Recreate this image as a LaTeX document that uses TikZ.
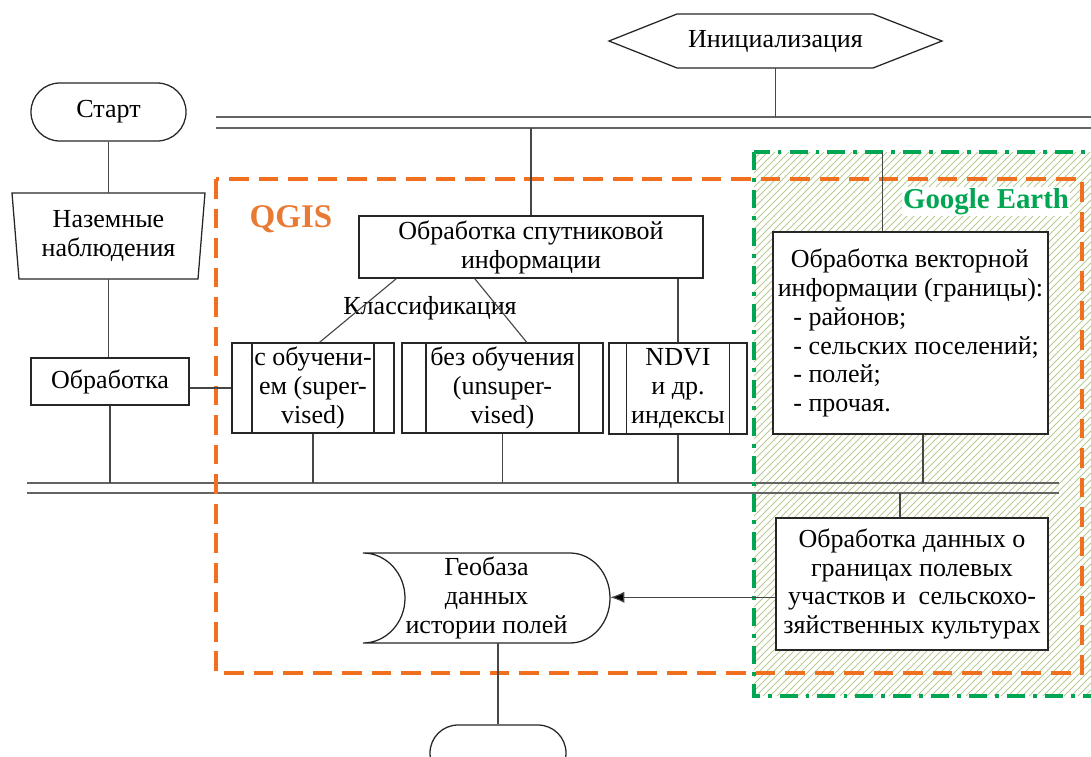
\documentclass[tikz,border=0pt]{standalone}
\usepackage{fontspec}
\setmainfont{Liberation Serif}
\usetikzlibrary{calc,arrows.meta}

\definecolor{qgisorange}{RGB}{240,112,32}
\definecolor{qgistext}{RGB}{232,122,52}
\definecolor{gegreen}{RGB}{0,166,82}
\definecolor{hatchgreen}{RGB}{186,202,146}
\definecolor{busgray}{RGB}{100,100,100}
\definecolor{linegray}{RGB}{70,70,70}

\tikzset{
    corners/.style n args={4}{at={({(#1+#3)/2},{(#2+#4)/2})},
        minimum width={(#3-#1)*0.025cm}, minimum height={(#4-#2)*0.025cm}},
    box/.style={draw=black!85, line width=0.9pt, fill=white, inner sep=0pt, align=center},
    predef/.style={box, path picture={
        \draw[line width=0.9pt, draw=black!85]
            ([xshift=#1]path picture bounding box.north west) -- ([xshift=#1]path picture bounding box.south west)
            ([xshift=-#1]path picture bounding box.north east) -- ([xshift=-#1]path picture bounding box.south east);}},
    link/.style={draw=linegray, line width=0.8pt},
    bus/.style={draw=busgray, line width=1.4pt},
    hatch/.style={draw=hatchgreen, line width=0.6pt},
    qgisframe/.style={draw=qgisorange, line width=2.8pt, dash pattern=on 14pt off 7pt},
    geframe/.style={draw=gegreen, line width=2.8pt, dash pattern=on 12.8pt off 5.7pt on 2.8pt off 5.7pt}
}

\begin{document}
\begin{tikzpicture}[x=0.025cm, y=-0.025cm, font=\fontsize{18.5}{20.6}\selectfont]
    \useasboundingbox (0,0) rectangle (1091,756);
    \clip (0,0) rectangle (1091,756);

    % Google Earth area
    \begin{scope}
        \clip (754,152) rectangle (1091,696);
        \foreach \i in {0,7,...,882}
            \draw[hatch] (210+\i,696) -- ++(544,-544);
    \end{scope}

    % buses
    \coordinate (top1) at (0,117);
    \coordinate (top2) at (0,128);
    \coordinate (bot1) at (0,483);
    \coordinate (bot2) at (0,493);
    \draw[bus] (216,117) -- (1091,117) (216,128) -- (1091,128);
    \draw[bus] (27,483) -- (1059,483) (27,493) -- (1059,493);

    % frames
    \coordinate (getop) at (754,152);
    \draw[qgisframe] (216,179) rectangle (1082,673);
    \draw[geframe] (754,152) rectangle (1110,696);
    \node[font=\fontsize{23.5}{26}\selectfont\bfseries, text=qgistext, anchor=base] (qgis) at (291,227) {QGIS};
    \node[font=\fontsize{20.5}{24}\selectfont\bfseries, text=gegreen, fill=white, inner sep=1pt, anchor=base] (ge) at (986,208) {Google Earth};

    % blocks
    \draw[box] (609,41) -- (677,14) -- (873,14) -- (942,41) -- (873,68) -- (677,68) -- cycle;
    \node[corners={609}{14}{942}{68}, inner sep=0pt] (init) {Инициализация};
    \node[box, rounded corners=0.72cm, corners={31}{83}{186}{141}] (start) {Старт};
    \draw[box] (12,193) -- (205,193) -- (198,279) -- (19,279) -- cycle;
    \node[corners={12}{193}{205}{279}, inner sep=0pt, align=center] (naz) {Наземные\\наблюдения};
    \node[box, corners={31}{358}{189}{405}] (obr) {Обработка};
    \node[box, corners={359}{216}{703}{278}] (sat) {Обработка спутниковой\\информации};
    \node[predef=0.5cm, corners={232}{343}{394}{433}] (sup) {с обучени-\\ем (super-\\vised)};
    \node[predef=0.6cm, corners={402}{343}{603}{433}] (unsup) {без обучения\\(unsuper-\\vised)};
    \node[predef=0.43cm, corners={609}{343}{747}{434}] (ndvi) {NDVI\\и др.\\индексы};
    \node[anchor=base] (cls) at (430,314) {Классификация};
    \node[box, align=left, corners={773}{232}{1048}{434}] (vec) {\hspace*{0.5em}Обработка векторной\\информации (границы):\\\hspace*{0.6em}- районов;\\\hspace*{0.6em}- сельских поселений;\\\hspace*{0.6em}- полей;\\\hspace*{0.6em}- прочая.};
    \node[box, corners={776}{518}{1048}{650}] (dat) {Обработка данных о\\границах полевых\\участков и~ сельскохо-\\зяйственных культурах};
    \draw[box] (363,553) -- (570,553) .. controls (592,553) and (610,573) .. (610,598)
        .. controls (610,623) and (592,643) .. (570,643) -- (363,643)
        .. controls (386,643) and (405,623) .. (405,598)
        .. controls (405,573) and (386,553) .. (363,553) -- cycle;
    \node[corners={363}{553}{610}{643}, inner sep=0pt, align=center] (geo) {Геобаза\\данных\\истории полей};
    \node[box, rounded corners=0.7cm, corners={430}{725}{566}{781}] (fin) {};

    % connectors
    \coordinate (vtop) at ($(vec.north west)!0.4!(vec.north east)$);
    \coordinate (vbot) at ($(vec.south west)!0.545!(vec.south east)$);
    \coordinate (dtop) at ($(dat.north west)!0.456!(dat.north east)$);
    \coordinate (dout) at ($(dat.north west)!0.6!(dat.south west)$);
    \draw[link] (init.south) -- (init.south |- top1);
    \draw[link] (start.south) -- (naz.north);
    \draw[link] (naz.south) -- (naz.south |- obr.north);
    \draw[link] (obr.south) -- (obr.south |- bot1);
    \draw[link] (sup.west) -- (sup.west -| obr.east);
    \draw[link] (sat.north) -- (sat.north |- top2);
    \draw[link] ($(sat.south west)!0.11!(sat.south east)$) -- ($(sup.north west)!0.54!(sup.north east)$);
    \draw[link] ($(sat.south west)!0.337!(sat.south east)$) -- ($(unsup.north west)!0.62!(unsup.north east)$);
    \draw[link] (ndvi.north) -- (ndvi.north |- sat.south);
    \draw[link] (sup.south) -- (sup.south |- bot1);
    \draw[link] (unsup.south) -- (unsup.south |- bot1);
    \draw[link] (ndvi.south) -- (ndvi.south |- bot1);
    \draw[link] (vtop) -- (vtop |- getop);
    \draw[link] (vbot) -- (vbot |- bot1);
    \draw[link] (dtop) -- (dtop |- bot2);
    \draw[link, -{Latex[length=10pt, width=8pt, fill=black]}] (dout) -- (dout -| geo.east);
    \draw[link] (fin.north) -- (fin.north |- geo.south);
\end{tikzpicture}
\end{document}
